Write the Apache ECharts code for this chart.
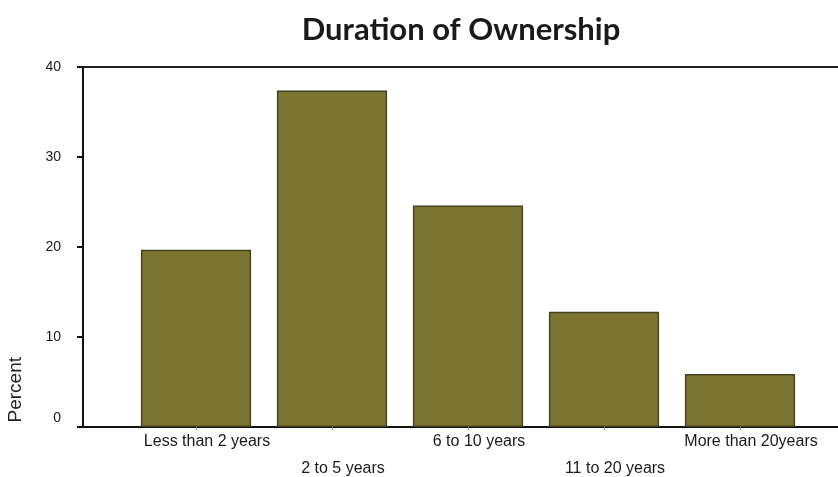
<!DOCTYPE html>
<html>
<head>
<meta charset="utf-8">
<script src="https://cdn.jsdelivr.net/npm/echarts@6/dist/echarts.min.js"></script>
<style>
  html, body { margin: 0; padding: 0; background: #fff; }
  #chart { width: 838px; height: 477px; }
</style>
</head>
<body>
<div id="chart"></div>
<script>
// Ownership duration buckets and share of owners (percent)
const categories = ['Less than 2 years', '2 to 5 years', '6 to 10 years', '11 to 20 years', 'More than 20years'];
const percentValues = [19.7, 37.4, 24.6, 12.8, 5.9];
const yTicks = [0, 10, 20, 30, 40];

const chart = echarts.init(document.getElementById('chart'));

const yMin = yTicks[0];
const yMax = yTicks[yTicks.length - 1];
const yStep = yTicks[1] - yTicks[0];

chart.setOption({
  animation: false,
  title: {
    text: 'Duration of Ownership',
    left: 456,
    textAlign: 'center',
    top: 9,
    textStyle: { fontFamily: 'Lato', fontWeight: 'bold', fontSize: 31, color: '#1a1a1a' }
  },
  graphic: [{
    type: 'text',
    left: 6,
    top: 357,
    rotation: Math.PI / 2,
    style: { text: 'Percent', font: '19px "Liberation Sans", Arial', fill: '#222' }
  }],
  grid: [
    // frame grid: y axis with top and bottom rules
    { left: 83, right: 0, top: 67, height: 360, outerBoundsMode: 'none' },
    // bar grid
    { left: 128, width: 680, top: 67, height: 360, outerBoundsMode: 'none' }
  ],
  xAxis: [
    {
      gridIndex: 0, type: 'value', position: 'bottom', min: 0, max: 1,
      axisLine: { show: true, lineStyle: { color: '#111', width: 2 } },
      axisTick: { show: false }, axisLabel: { show: false }, splitLine: { show: false }
    },
    {
      gridIndex: 0, type: 'value', position: 'top', min: 0, max: 1,
      axisLine: { show: true, lineStyle: { color: '#222', width: 2 } },
      axisTick: { show: false }, axisLabel: { show: false }, splitLine: { show: false }
    },
    {
      gridIndex: 1, type: 'category', data: categories,
      axisLine: { show: false },
      axisTick: { show: true, alignWithLabel: true, length: 3, lineStyle: { color: '#999' } },
      axisLabel: {
        interval: 0,
        margin: 1,
        padding: [0, 0, 0, 22],
        lineHeight: 27,
        fontFamily: '"Liberation Sans", Arial',
        fontSize: 16,
        color: '#1a1a1a',
        formatter: (v, i) => (i % 2 === 1 ? '\n' + v : v)
      }
    }
  ],
  yAxis: [
    {
      gridIndex: 0, type: 'value', min: yMin, max: yMax, interval: yStep,
      axisLine: { show: true, lineStyle: { color: '#111', width: 2 } },
      axisTick: { show: true, inside: false, length: 6, lineStyle: { color: '#111', width: 2 } },
      axisLabel: {
        margin: 22,
        fontFamily: '"Liberation Sans", Arial',
        fontSize: 14,
        color: '#1a1a1a',
        formatter: v => (v === 0 ? '{z|0}' : String(v)),
        rich: { z: { fontSize: 14, color: '#1a1a1a', padding: [0, 0, 18, 0] } }
      },
      splitLine: { show: false }
    },
    {
      gridIndex: 1, type: 'value', min: yMin, max: yMax, interval: yStep, show: false
    }
  ],
  series: [{
    type: 'bar',
    xAxisIndex: 2,
    yAxisIndex: 1,
    data: percentValues,
    barCategoryGap: '19%',
    itemStyle: {
      color: '#7d7532',
      borderColor: '#45421f',
      borderWidth: 1.5
    }
  }]
});
</script>
</body>
</html>
